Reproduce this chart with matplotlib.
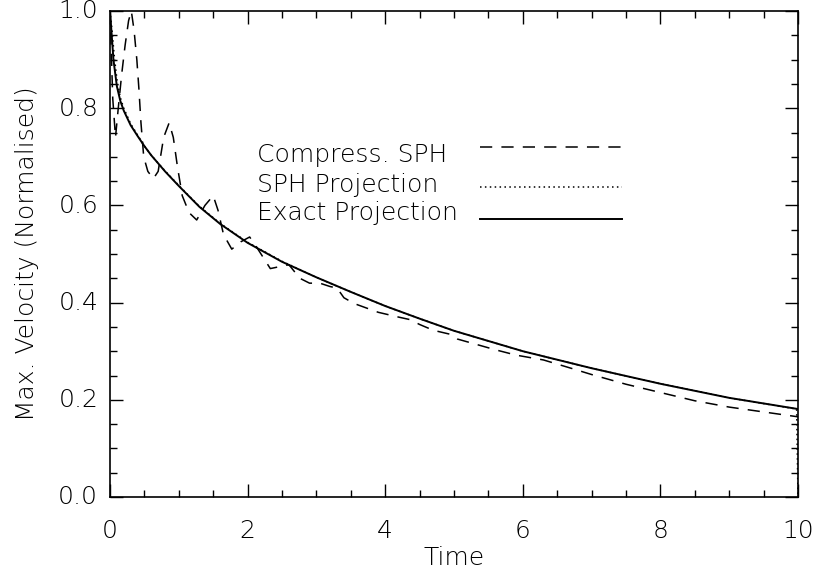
import matplotlib
matplotlib.use("Agg")
import matplotlib.pyplot as plt
import matplotlib.transforms as mtrans
from matplotlib.ticker import MultipleLocator

# ---- data ----
t_exact = [0.0, 0.05, 0.1, 0.15, 0.2, 0.3, 0.4, 0.5, 0.6, 0.8, 1.0, 1.3, 1.6, 2.0,
           2.5, 3.0, 3.5, 4.0, 4.5, 5.0, 6.0, 7.0, 8.0, 9.0, 10.0]
v_exact = [1.0, 0.90, 0.845, 0.815, 0.795, 0.765, 0.743, 0.722, 0.703, 0.670, 0.640,
           0.597, 0.562, 0.523, 0.484, 0.452, 0.422, 0.393, 0.367, 0.342, 0.300,
           0.265, 0.233, 0.204, 0.181]

t_sph = [0.0, 0.03, 0.06, 0.1, 0.15, 0.2, 0.3, 0.4, 0.5, 0.6, 0.8, 1.0, 1.3, 1.6, 2.0,
         2.5, 3.0, 3.5, 4.0, 4.5, 5.0, 6.0, 7.0, 8.0, 9.0, 9.98, 10.0]
v_sph = [1.0, 0.96, 0.91, 0.86, 0.822, 0.80, 0.768, 0.745, 0.722, 0.703, 0.671, 0.641,
         0.598, 0.563, 0.524, 0.485, 0.452, 0.422, 0.393, 0.367, 0.342, 0.300,
         0.265, 0.233, 0.204, 0.181, 0.0]

t_comp = [0.0, 0.04, 0.08, 0.12, 0.17, 0.22, 0.27, 0.31, 0.35, 0.39, 0.42, 0.45, 0.49,
          0.55, 0.63, 0.7, 0.78, 0.86, 0.92, 0.98, 1.05, 1.15, 1.26, 1.38, 1.5, 1.57,
          1.65, 1.77, 1.9, 2.03, 2.15, 2.33, 2.5, 2.6, 2.76, 2.9, 3.05, 3.2, 3.3, 3.4,
          3.55, 3.9, 4.2, 4.36, 4.5, 4.7, 4.94, 5.05, 5.3, 5.6, 5.9, 6.3, 6.7, 7.0,
          7.5, 8.0, 8.5, 9.0, 9.5, 10.0]
v_comp = [1.0, 0.82, 0.74, 0.80, 0.87, 0.93, 0.98, 1.0, 0.96, 0.90, 0.84, 0.77, 0.70,
          0.67, 0.655, 0.67, 0.74, 0.77, 0.74, 0.68, 0.62, 0.585, 0.57, 0.60, 0.62, 0.59,
          0.54, 0.51, 0.525, 0.535, 0.51, 0.47, 0.475, 0.478, 0.45, 0.44, 0.44, 0.433,
          0.43, 0.41, 0.398, 0.38, 0.37, 0.365, 0.355, 0.343, 0.335, 0.325, 0.315,
          0.303, 0.292, 0.282, 0.265, 0.252, 0.232, 0.215, 0.198, 0.185, 0.175, 0.165]

legend_labels = ["Compress. SPH", "SPH Projection", "Exact Projection"]
xlabel = "Time"
ylabel = "Max. Velocity (Normalised)"

# ---- figure ----
W, H = 819, 576
fig = plt.figure(figsize=(W / 100, H / 100), dpi=100)
plt.rcParams['font.family'] = ['DejaVu Sans']
fs = 18
fw = 'light'

ax = fig.add_axes([110 / W, 1 - 497 / H, (798 - 110) / W, (497 - 11) / H])
lw = 1.1
ax.plot(t_comp, v_comp, color='black', lw=lw, dashes=(8, 6))
ax.plot(t_sph, v_sph, color='black', lw=lw, dashes=(1, 2.2))
ax.plot(t_exact, v_exact, color='black', lw=1.4)

ax.set_xlim(0, 10)
ax.set_ylim(0, 1.0)
ax.xaxis.set_major_locator(MultipleLocator(2))
ax.xaxis.set_minor_locator(MultipleLocator(0.5))
ax.yaxis.set_major_locator(MultipleLocator(0.2))
ax.yaxis.set_minor_locator(MultipleLocator(0.05))
ax.xaxis.set_major_formatter(matplotlib.ticker.FuncFormatter(lambda v, p: f"{v:.0f}"))
ax.yaxis.set_major_formatter(matplotlib.ticker.FuncFormatter(lambda v, p: f"{v:.1f}"))
ax.tick_params(which='both', direction='in', top=True, right=True, width=1.0)
ax.tick_params(which='major', length=9.5)
ax.tick_params(which='minor', length=5)
ax.tick_params(axis='y', which='major', pad=8.5, labelsize=fs)
ax.tick_params(axis='x', which='major', pad=16, labelsize=fs)
for lab in ax.get_xticklabels() + ax.get_yticklabels():
    lab.set_fontweight(fw)
shift = mtrans.ScaledTranslation(0, 2 / 100, fig.dpi_scale_trans)
for lab in ax.get_yticklabels():
    lab.set_transform(lab.get_transform() + shift)
for s in ax.spines.values():
    s.set_linewidth(1.2)

ax.set_xlabel(xlabel, fontsize=fs, fontweight=fw, labelpad=2)
ax.set_ylabel(ylabel, fontsize=fs, fontweight=fw, labelpad=14)

# legend (IDL-style: text then sample line)
text_y = [155, 185, 213]
line_y = [147, 187, 219]
styles = [dict(dashes=(8, 6), lw=lw), dict(dashes=(1, 2.2), lw=lw), dict(lw=1.4)]
for lbl, ty, ly, st in zip(legend_labels, text_y, line_y, styles):
    fig.text(257 / W, 1 - ty / H, lbl, fontsize=fs, fontweight=fw,
             ha='left', va='center')
    fig.add_artist(matplotlib.lines.Line2D([480 / W, 622 / W], [1 - ly / H, 1 - ly / H],
                                           color='black', transform=fig.transFigure, **st))

fig.savefig("out.png", dpi=100)
